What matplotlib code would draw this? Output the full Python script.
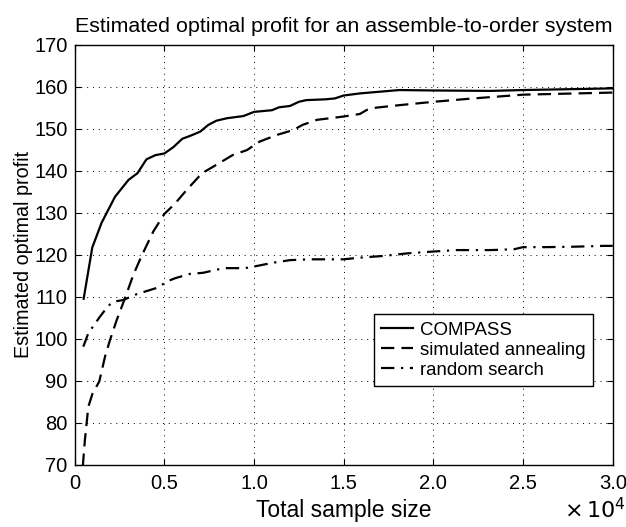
import matplotlib
matplotlib.use("Agg")
import matplotlib.pyplot as plt
from matplotlib.ticker import FuncFormatter

plt.rcParams['font.family'] = ['Liberation Sans', 'DejaVu Sans']

compass_x = [500, 980, 1500, 2250, 3000, 3500, 4000, 4500, 5000, 5500, 6000, 6500, 7000,
             7450, 7900, 8500, 9400, 10000, 11000, 11400, 12000, 12500, 12900, 14000,
             14500, 15000, 15900, 18100, 20000, 23200, 25000, 30000]
compass_y = [109.5, 121.7, 127.6, 133.8, 137.8, 139.4, 142.7, 143.7, 144.1, 145.6, 147.6,
             148.4, 149.3, 150.9, 151.9, 152.5, 153.0, 154.0, 154.4, 155.1, 155.4, 156.4,
             156.8, 157.0, 157.2, 157.9, 158.4, 159.2, 159.1, 159.0, 159.2, 159.6]

sa_x = [450, 570, 760, 1000, 1370, 1690, 1970, 2340, 2800, 3270, 3730, 4380, 5000, 5600,
        6240, 7100, 7900, 8800, 9600, 10300, 11260, 12200, 12700, 13500, 15000, 15900,
        16300, 16800, 18100, 20000, 22200, 25000, 30000]
sa_y = [69.5, 75.9, 83.8, 87.0, 89.8, 95.7, 99.7, 104.4, 109.6, 115.2, 119.7, 125.5, 129.7,
        132.2, 135.4, 139.4, 141.4, 143.7, 144.9, 146.9, 148.5, 149.7, 150.9, 152.1, 152.9,
        153.5, 154.5, 155.0, 155.6, 156.4, 157.2, 158.1, 158.6]

rs_x = [480, 760, 1400, 1870, 2150, 2700, 3450, 4660, 5130, 5600, 6400, 7170, 8300, 9500,
        10140, 11070, 12000, 13100, 15000, 15900, 17200, 18500, 19800, 21300, 23200, 24500,
        25000, 26300, 27800, 29500, 30000]
rs_y = [98.1, 101.3, 105.2, 107.8, 108.8, 109.2, 110.6, 112.2, 113.6, 114.4, 115.4, 115.7,
        116.8, 116.8, 117.3, 118.1, 118.7, 118.9, 118.9, 119.3, 119.7, 120.3, 120.7, 121.1,
        121.1, 121.3, 121.8, 121.8, 121.9, 122.1, 122.1]

series_names = ["COMPASS", "simulated annealing", "random search"]
x_ticks = [0, 5000, 10000, 15000, 20000, 25000, 30000]
y_ticks = list(range(70, 171, 10))

fig = plt.figure(figsize=(6.26, 5.27), dpi=100)
ax = fig.add_axes([0.1193, 0.1182, 0.8595, 0.797])

ax.plot(compass_x, compass_y, color='black', lw=1.6, linestyle='-', label=series_names[0])
ax.plot(sa_x, sa_y, color='black', lw=1.6, linestyle=(0, (6, 3.2)), label=series_names[1])
ax.plot(rs_x, rs_y, color='black', lw=1.6, linestyle=(0, (6, 3, 1, 3)), label=series_names[2])

ax.set_xlim(0, 30000)
ax.set_ylim(70, 170)
ax.set_xticks(x_ticks)
ax.set_yticks(y_ticks)
ax.xaxis.set_major_formatter(FuncFormatter(lambda v, p: "0" if v == 0 else f"{v/1e4:.1f}"))
ax.grid(True, color='black', linestyle=(0, (1, 5)), linewidth=0.7)
ax.tick_params(direction='in', length=4, width=0.8, labelsize=14.5, top=True, right=True,
               colors='black')
ax.tick_params(axis='x', pad=7)
ax.tick_params(axis='y', pad=5)
for s in ax.spines.values():
    s.set_linewidth(1.0)
    s.set_color('black')

ax.set_xlabel("Total sample size", fontsize=16.5, labelpad=4)
ax.set_ylabel("Estimated optimal profit", fontsize=14.2, labelpad=1)
ax.set_title("Estimated optimal profit for an assemble-to-order system", fontsize=15.4, pad=9)
fig.text(0.999, 0.032, r"$\times\,10^4$", ha='right', va='center', fontsize=16,
         fontfamily='Liberation Sans')

leg = ax.legend(loc='lower right', bbox_to_anchor=(0.9634, 0.1874), fontsize=13.4,
                frameon=True, fancybox=False, edgecolor='black', handlelength=1.72,
                borderpad=0.4, labelspacing=0.15, handletextpad=0.35, borderaxespad=0,
                framealpha=1)
leg.get_frame().set_linewidth(1.0)

fig.savefig("out.png", dpi=100)
